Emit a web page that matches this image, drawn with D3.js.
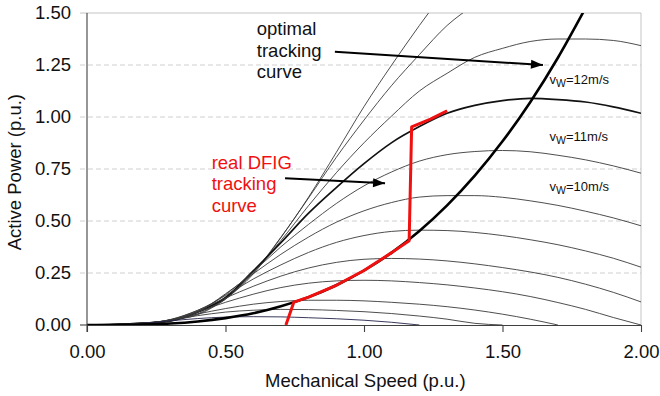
<!DOCTYPE html>
<html>
<head>
<meta charset="utf-8">
<script src="https://d3js.org/d3.v7.min.js"></script>
<style>
  body { margin: 0; background: #fff; }
  svg { display: block; font-family: "Liberation Sans", Arial, sans-serif; }
</style>
</head>
<body>
<svg id="chart" width="660" height="396"></svg>
<script>
//---DATA
var speedGrid = [0, 0.1, 0.2, 0.3, 0.4, 0.5, 0.6, 0.7, 0.8, 0.9, 1.0,
                 1.1, 1.2, 1.3, 1.4, 1.5, 1.6, 1.7, 1.8, 1.9, 2.0];

var windSpeeds = [14, 13, 12, 11, 10, 9, 8, 7, 6, 5, 4, 3];
var pw14 = [0, .003, .008, .022, .05, .125, .245, .42, .615, .83, 1.05, 1.25, 1.44, 1.62];
var pw13 = [0, .004, .009, .024, .054, .129, .25, .422, .611, .806, .985, 1.152, 1.30, 1.44, 1.54];
var pw12 = [0, .003, .009, .021, .061, .124, .256, .406, .574, .732, .876, 1.005, 1.125, 1.21, 1.287, 1.33, 1.363, 1.375, 1.375, 1.368, 1.343];
var pw11 = [0, .003, .009, .019, .063, .132, .26, .396, .538, .661, .776, .877, .954, 1.018, 1.056, 1.079, 1.09, 1.084, 1.072, 1.049, 1.018];
var pw10 = [0, .002, .008, .019, .065, .146, .256, .376, .484, .584, .669, .736, .788, .819, .834, .839, .833, .816, .794, .765, .73];
var pw9  = [0, .002, .008, .024, .062, .15, .246, .34, .423, .494, .549, .589, .615, .622, .622, .614, .597, .575, .547, .515, .477];
var pw8  = [0, .001, .006, .026, .07, .142, .221, .289, .349, .397, .43, .45, .456, .454, .445, .43, .41, .386, .356, .321, .278];
var pw7  = [0, .001, .005, .025, .071, .13, .186, .235, .274, .301, .316, .32, .317, .308, .294, .276, .255, .229, .196, .157, .111];
var pw6  = [0, .001, .004, .023, .064, .109, .148, .18, .201, .212, .215, .212, .204, .193, .178, .16, .137, .108, .075, .036, 0];
var pw5  = [0, .001, .006, .024, .053, .079, .1, .113, .119, .119, .116, .109, .1, .088, .072, .052, .028, 0];
var pw4  = [0, .001, .006, .024, .045, .062, .071, .075, .074, .07, .064, .055, .043, .028, .008, 0];
var pw3  = [0, .001, .007, .02, .031, .038, .04, .039, .035, .03, .023, .013, 0];
var powerBySpeed = [pw14, pw13, pw12, pw11, pw10, pw9, pw8, pw7, pw6, pw5, pw4, pw3];

//---optimal tracking curve
var optSpeed = [0, 0.1, 0.2, 0.3, 0.4, 0.5, 0.6, 0.7, 0.8, 0.9, 1.0, 1.1, 1.2, 1.3, 1.4, 1.5, 1.6, 1.7, 1.8];
var optPower = [0, .0003, .002, .007, .017, .033, .056, .09, .134, .191, .262, .348, .452, .575, .718, .883, 1.071, 1.285, 1.525];

//---real DFIG tracking curve
var dfigSpeed = [0.718, 0.747, 0.8, 0.9, 1.0, 1.1, 1.163, 1.172, 1.24, 1.30];
var dfigPower = [0, 0.11, 0.134, 0.191, 0.262, 0.348, 0.405, 0.952, 0.99, 1.03];

var xTicks = [0, 0.5, 1.0, 1.5, 2.0];
var yTicks = [0, 0.25, 0.5, 0.75, 1.0, 1.25, 1.5];

var windLabelSpeeds = [12, 11, 10];
var windLabelAt = [[1.67, 1.161], [1.67, 0.885], [1.67, 0.642]];

var optText = ['optimal', 'tracking', 'curve'];
var dfigText = ['real DFIG', 'tracking', 'curve'];

//---SIZES
var W = 660, H = 396;
var margin = { top: 13, right: 19, bottom: 71, left: 87 };
var w = W - margin.left - margin.right;
var h = H - margin.top - margin.bottom;
var fontSize = 18.5;

var svg = d3.select('#chart');

//---SCALES
var x = d3.scaleLinear().domain([0, 2]).range([0, w]);
var y = d3.scaleLinear().domain([0, 1.5]).range([h, 0]);

var g = svg.append('g')
  .attr('transform', 'translate(' + margin.left + ',' + margin.top + ')');

svg.append('defs').append('clipPath')
  .attr('id', 'plot-clip')
  .append('rect')
  .attr('x', 0).attr('y', 0).attr('width', w).attr('height', h);

//---GRID
g.selectAll('.grid')
  .data(yTicks.filter(function(d) { return d > 0; }))
  .enter()
  .append('line')
  .attr('class', 'grid')
  .attr('x1', -7)
  .attr('x2', w)
  .attr('y1', function(d) { return y(d); })
  .attr('y2', function(d) { return y(d); })
  .style('stroke', function(d) { return d === 1.5 ? '#c4c4c4' : '#cfcfcf'; })
  .style('stroke-width', 1)
  .style('stroke-dasharray', function(d) { return d === 1.5 ? null : '5,3'; });

g.append('line')
  .attr('x1', w).attr('x2', w)
  .attr('y1', 0).attr('y2', h)
  .style('stroke', '#c4c4c4')
  .style('stroke-width', 1);

//---CURVES
var line = d3.line()
  .x(function(d) { return x(d[0]); })
  .y(function(d) { return y(d[1]); })
  .curve(d3.curveMonotoneX);

var plot = g.append('g').attr('clip-path', 'url(#plot-clip)');

windSpeeds.forEach(function(v, i) {
  var vals = powerBySpeed[i];
  var pts = d3.zip(speedGrid.slice(0, vals.length), vals);
  plot.append('path')
    .datum(pts)
    .attr('class', 'wind-' + v)
    .attr('d', line)
    .style('fill', 'none')
    .style('stroke', v === 11 ? '#111' : (v === 3 ? '#23234a' : '#3a3a3a'))
    .style('stroke-width', v === 11 ? 1.7 : 0.9);
});

plot.append('path')
  .datum(d3.zip(optSpeed, optPower))
  .attr('d', line)
  .style('fill', 'none')
  .style('stroke', '#000')
  .style('stroke-width', 2.6);

plot.append('path')
  .datum(d3.zip(dfigSpeed, dfigPower))
  .attr('d', line.curve(d3.curveLinear))
  .style('fill', 'none')
  .style('stroke', '#f01010')
  .style('stroke-width', 3)
  .style('stroke-linejoin', 'round');

//---AXES
var xAxis = g.append('g')
  .attr('transform', 'translate(0,' + h + ')')
  .call(d3.axisBottom(x).tickValues(xTicks).tickFormat(d3.format('.2f'))
    .tickSize(7).tickSizeOuter(0).tickPadding(13));

var yAxis = g.append('g')
  .call(d3.axisLeft(y).tickValues(yTicks).tickFormat(d3.format('.2f'))
    .tickSize(0).tickPadding(16));

[xAxis, yAxis].forEach(function(a) {
  a.attr('font-size', fontSize).attr('font-family', null);
  a.selectAll('path, line').style('stroke', '#404040').style('stroke-width', 1.1);
  a.selectAll('text').style('fill', '#111');
});
yAxis.select('.domain').attr('d', 'M0,0V' + (h + 7));

g.append('line')
  .attr('x1', -7).attr('x2', 0)
  .attr('y1', h).attr('y2', h)
  .style('stroke', '#404040').style('stroke-width', 1.1);

//---AXIS TITLES
g.append('text')
  .attr('x', x(1.005))
  .attr('y', h + 62)
  .attr('text-anchor', 'middle')
  .style('font-size', fontSize + 'px')
  .style('fill', '#111')
  .text('Mechanical Speed (p.u.)');

g.append('text')
  .attr('transform', 'translate(' + (20.5 - margin.left) + ',' + y(0.735) + ') rotate(-90)')
  .attr('text-anchor', 'middle')
  .style('font-size', fontSize + 'px')
  .style('fill', '#111')
  .text('Active Power (p.u.)');

//---WIND SPEED LABELS
windLabelSpeeds.forEach(function(v, i) {
  var t = g.append('text')
    .attr('x', x(windLabelAt[i][0]))
    .attr('y', y(windLabelAt[i][1]))
    .style('font-size', '13px')
    .style('fill', '#111');
  t.append('tspan').text('v');
  t.append('tspan').attr('dy', 3).style('font-size', '10.5px').text('W');
  t.append('tspan').attr('dy', -3).text('=' + v + 'm/s');
});

//---ANNOTATIONS
svg.append('defs').append('marker')
  .attr('id', 'arrow')
  .attr('viewBox', '0 -5 12 10')
  .attr('refX', 12).attr('refY', 0)
  .attr('markerUnits', 'userSpaceOnUse')
  .attr('markerWidth', 13).attr('markerHeight', 10)
  .attr('orient', 'auto')
  .append('path')
  .attr('d', 'M0,-4.5L12,0L0,4.5Z')
  .style('fill', '#000');

function annotate(lines, at, color, arrowFrom, arrowTo) {
  lines.forEach(function(s, i) {
    g.append('text')
      .attr('x', x(at[0]))
      .attr('y', y(at[1]) + i * 21.5)
      .style('font-size', fontSize + 'px')
      .style('fill', color)
      .text(s);
  });
  g.append('line')
    .attr('x1', x(arrowFrom[0])).attr('y1', y(arrowFrom[1]))
    .attr('x2', x(arrowTo[0])).attr('y2', y(arrowTo[1]))
    .style('stroke', '#000')
    .style('stroke-width', 2)
    .attr('marker-end', 'url(#arrow)');
}

annotate(optText, [0.613, 1.394], '#111', [0.895, 1.314], [1.646, 1.25]);
annotate(dfigText, [0.45, 0.752], '#f01010', [0.715, 0.705], [1.076, 0.681]);
</script>
</body>
</html>
